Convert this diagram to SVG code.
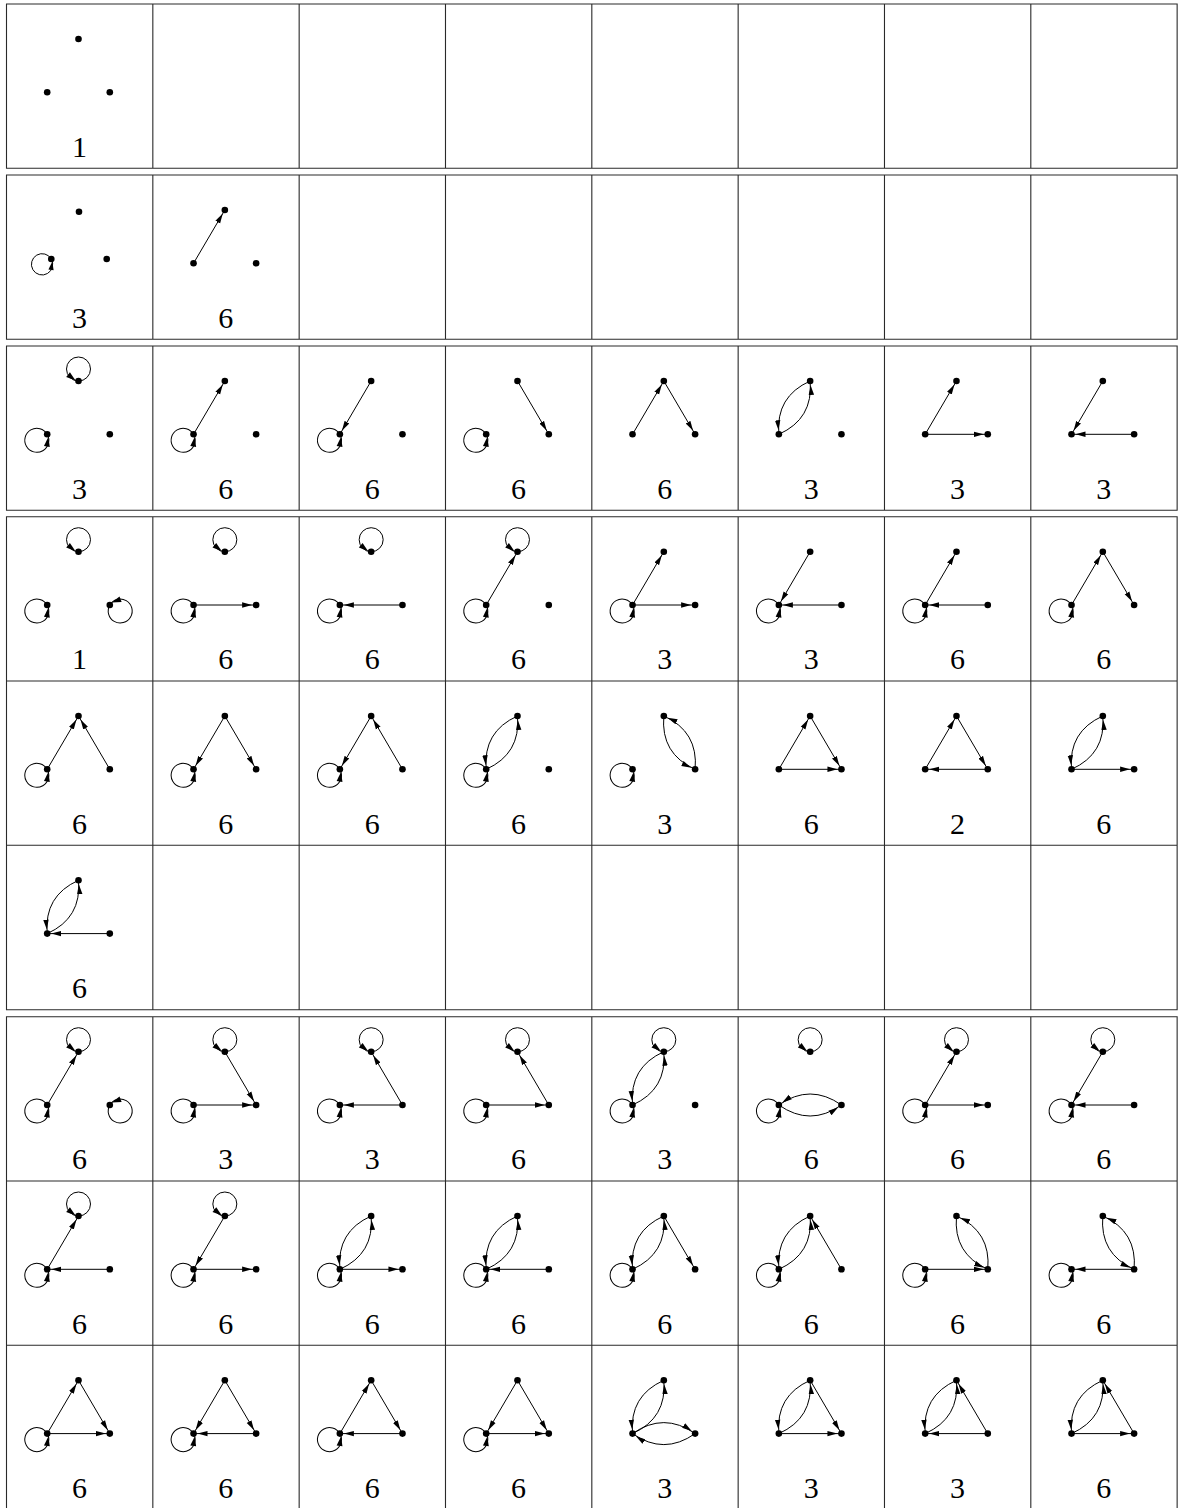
<svg xmlns="http://www.w3.org/2000/svg" xmlns:xlink="http://www.w3.org/1999/xlink" width="1178" height="1508" viewBox="0 0 1178 1508">
<style>
.g{fill:none;stroke:#2a2a2a;stroke-width:1.1}
.e{fill:none;stroke:#000;stroke-width:1;marker-end:url(#ah)}
.lc{fill:none;stroke:#000;stroke-width:1}
.n{font-family:"Liberation Serif","DejaVu Serif",serif;font-size:30px;text-anchor:middle;fill:#000}
</style>
<defs>
<marker id="ah" viewBox="0 0 15 7" refX="14" refY="3.5" markerWidth="15" markerHeight="7" markerUnits="userSpaceOnUse" orient="auto"><path d="M0,0.8 L10,3.5 L0,6.2 Z" fill="#000"/></marker>
<g id="lp"><circle class="lc" cx="0" cy="-12" r="12"/><path d="M-3,-0.4 L-12.3,-4.1 L-8.6,-8.7 Z" fill="#000"/></g>
<use id="lpT" href="#lp" transform="translate(72,35)"/>
<use id="lpL" href="#lp" transform="translate(40.7,88.3) rotate(-120)"/>
<use id="lpR" href="#lp" transform="translate(103.3,88.3) rotate(120)"/>
<g id="V3"><circle cx="72" cy="35" r="3.3"/><circle cx="40.7" cy="88.3" r="3.3"/><circle cx="103.3" cy="88.3" r="3.3"/></g>
<path id="sLT" class="e" d="M40.7,88.3 L72,35"/>
<path id="sTL" class="e" d="M72,35 L40.7,88.3"/>
<path id="sTR" class="e" d="M72,35 L103.3,88.3"/>
<path id="sRT" class="e" d="M103.3,88.3 L72,35"/>
<path id="sLR" class="e" d="M40.7,88.3 L103.3,88.3"/>
<path id="sRL" class="e" d="M103.3,88.3 L40.7,88.3"/>
<path id="cLT" class="e" d="M40.7,88.3 Q75.33,72.79 72,35"/>
<path id="cTL" class="e" d="M72,35 Q37.37,50.51 40.7,88.3"/>
<path id="cTR" class="e" d="M72,35 Q68.67,72.79 103.3,88.3"/>
<path id="cRT" class="e" d="M103.3,88.3 Q106.63,50.51 72,35"/>
<path id="cLR" class="e" d="M40.7,88.3 Q72,110.3 103.3,88.3"/>
<path id="cRL" class="e" d="M103.3,88.3 Q72,66.3 40.7,88.3"/>
<path id="cLRu" class="e" d="M40.7,88.3 Q72,66.3 103.3,88.3"/>
<path id="cRLd" class="e" d="M103.3,88.3 Q72,110.3 40.7,88.3"/>
</defs>
<rect width="1178" height="1508" fill="#fff"/>
<g id="grid">
<path class="g" d="M6.5,4 H1177.14 V168.3 H6.5 Z M152.83,4 V168.3 M299.16,4 V168.3 M445.49,4 V168.3 M591.82,4 V168.3 M738.15,4 V168.3 M884.48,4 V168.3 M1030.81,4 V168.3"/>
<path class="g" d="M6.5,175 H1177.14 V339.3 H6.5 Z M152.83,175 V339.3 M299.16,175 V339.3 M445.49,175 V339.3 M591.82,175 V339.3 M738.15,175 V339.3 M884.48,175 V339.3 M1030.81,175 V339.3"/>
<path class="g" d="M6.5,346 H1177.14 V510.3 H6.5 Z M152.83,346 V510.3 M299.16,346 V510.3 M445.49,346 V510.3 M591.82,346 V510.3 M738.15,346 V510.3 M884.48,346 V510.3 M1030.81,346 V510.3"/>
<path class="g" d="M6.5,516.7 H1177.14 V1009.7 H6.5 Z M6.5,681 H1177.14 M6.5,845.3 H1177.14 M152.83,516.7 V1009.7 M299.16,516.7 V1009.7 M445.49,516.7 V1009.7 M591.82,516.7 V1009.7 M738.15,516.7 V1009.7 M884.48,516.7 V1009.7 M1030.81,516.7 V1009.7"/>
<path class="g" d="M6.5,1509.6 V1016.7 H1177.14 V1509.6 M6.5,1181 H1177.14 M6.5,1345.3 H1177.14 M152.83,1016.7 V1509 M299.16,1016.7 V1509 M445.49,1016.7 V1509 M591.82,1016.7 V1509 M738.15,1016.7 V1509 M884.48,1016.7 V1509 M1030.81,1016.7 V1509"/>
</g>

<g id="r1c0" transform="translate(6.5,4)"><use href="#V3"/><text class="n" x="73" y="152.5">1</text></g>

<g id="r2c0" transform="translate(6.5,175)"><g class="conn"><use href="#lp" transform="translate(44.8,84) rotate(-120) scale(0.887)"/></g><circle cx="72.5" cy="36.7" r="3.3"/><circle cx="44.8" cy="84" r="3.3"/><circle cx="100.2" cy="84" r="3.3"/><text class="n" x="73" y="152.5">3</text></g>
<g id="r2c1" transform="translate(152.83,175)"><g class="conn"><use href="#sLT"/></g><use href="#V3"/><text class="n" x="73" y="152.5">6</text></g>

<g id="r3c0" transform="translate(6.5,346)"><g class="conn"><use href="#lpT"/><use href="#lpL"/></g><use href="#V3"/><text class="n" x="73" y="152.5">3</text></g>
<g id="r3c1" transform="translate(152.83,346)"><g class="conn"><use href="#lpL"/><use href="#sLT"/></g><use href="#V3"/><text class="n" x="73" y="152.5">6</text></g>
<g id="r3c2" transform="translate(299.16,346)"><g class="conn"><use href="#lpL"/><use href="#sTL"/></g><use href="#V3"/><text class="n" x="73" y="152.5">6</text></g>
<g id="r3c3" transform="translate(445.49,346)"><g class="conn"><use href="#lpL"/><use href="#sTR"/></g><use href="#V3"/><text class="n" x="73" y="152.5">6</text></g>
<g id="r3c4" transform="translate(591.82,346)"><g class="conn"><use href="#sLT"/><use href="#sTR"/></g><use href="#V3"/><text class="n" x="73" y="152.5">6</text></g>
<g id="r3c5" transform="translate(738.15,346)"><g class="conn"><use href="#cLT"/><use href="#cTL"/></g><use href="#V3"/><text class="n" x="73" y="152.5">3</text></g>
<g id="r3c6" transform="translate(884.48,346)"><g class="conn"><use href="#sLT"/><use href="#sLR"/></g><use href="#V3"/><text class="n" x="73" y="152.5">3</text></g>
<g id="r3c7" transform="translate(1030.81,346)"><g class="conn"><use href="#sTL"/><use href="#sRL"/></g><use href="#V3"/><text class="n" x="73" y="152.5">3</text></g>

<g id="r4c0" transform="translate(6.5,516.7)"><g class="conn"><use href="#lpT"/><use href="#lpL"/><use href="#lpR"/></g><use href="#V3"/><text class="n" x="73" y="152.5">1</text></g>
<g id="r4c1" transform="translate(152.83,516.7)"><g class="conn"><use href="#lpT"/><use href="#lpL"/><use href="#sLR"/></g><use href="#V3"/><text class="n" x="73" y="152.5">6</text></g>
<g id="r4c2" transform="translate(299.16,516.7)"><g class="conn"><use href="#lpT"/><use href="#lpL"/><use href="#sRL"/></g><use href="#V3"/><text class="n" x="73" y="152.5">6</text></g>
<g id="r4c3" transform="translate(445.49,516.7)"><g class="conn"><use href="#lpT"/><use href="#lpL"/><use href="#sLT"/></g><use href="#V3"/><text class="n" x="73" y="152.5">6</text></g>
<g id="r4c4" transform="translate(591.82,516.7)"><g class="conn"><use href="#lpL"/><use href="#sLT"/><use href="#sLR"/></g><use href="#V3"/><text class="n" x="73" y="152.5">3</text></g>
<g id="r4c5" transform="translate(738.15,516.7)"><g class="conn"><use href="#lpL"/><use href="#sTL"/><use href="#sRL"/></g><use href="#V3"/><text class="n" x="73" y="152.5">3</text></g>
<g id="r4c6" transform="translate(884.48,516.7)"><g class="conn"><use href="#lpL"/><use href="#sLT"/><use href="#sRL"/></g><use href="#V3"/><text class="n" x="73" y="152.5">6</text></g>
<g id="r4c7" transform="translate(1030.81,516.7)"><g class="conn"><use href="#lpL"/><use href="#sLT"/><use href="#sTR"/></g><use href="#V3"/><text class="n" x="73" y="152.5">6</text></g>

<g id="r5c0" transform="translate(6.5,681)"><g class="conn"><use href="#lpL"/><use href="#sLT"/><use href="#sRT"/></g><use href="#V3"/><text class="n" x="73" y="152.5">6</text></g>
<g id="r5c1" transform="translate(152.83,681)"><g class="conn"><use href="#lpL"/><use href="#sTL"/><use href="#sTR"/></g><use href="#V3"/><text class="n" x="73" y="152.5">6</text></g>
<g id="r5c2" transform="translate(299.16,681)"><g class="conn"><use href="#lpL"/><use href="#sTL"/><use href="#sRT"/></g><use href="#V3"/><text class="n" x="73" y="152.5">6</text></g>
<g id="r5c3" transform="translate(445.49,681)"><g class="conn"><use href="#lpL"/><use href="#cLT"/><use href="#cTL"/></g><use href="#V3"/><text class="n" x="73" y="152.5">6</text></g>
<g id="r5c4" transform="translate(591.82,681)"><g class="conn"><use href="#lpL"/><use href="#cTR"/><use href="#cRT"/></g><use href="#V3"/><text class="n" x="73" y="152.5">3</text></g>
<g id="r5c5" transform="translate(738.15,681)"><g class="conn"><use href="#sLT"/><use href="#sTR"/><use href="#sLR"/></g><use href="#V3"/><text class="n" x="73" y="152.5">6</text></g>
<g id="r5c6" transform="translate(884.48,681)"><g class="conn"><use href="#sLT"/><use href="#sTR"/><use href="#sRL"/></g><use href="#V3"/><text class="n" x="73" y="152.5">2</text></g>
<g id="r5c7" transform="translate(1030.81,681)"><g class="conn"><use href="#cLT"/><use href="#cTL"/><use href="#sLR"/></g><use href="#V3"/><text class="n" x="73" y="152.5">6</text></g>

<g id="r6c0" transform="translate(6.5,845.3)"><g class="conn"><use href="#cLT"/><use href="#cTL"/><use href="#sRL"/></g><use href="#V3"/><text class="n" x="73" y="152.5">6</text></g>

<g id="r7c0" transform="translate(6.5,1016.7)"><g class="conn"><use href="#lpT"/><use href="#lpL"/><use href="#lpR"/><use href="#sLT"/></g><use href="#V3"/><text class="n" x="73" y="152.5">6</text></g>
<g id="r7c1" transform="translate(152.83,1016.7)"><g class="conn"><use href="#lpT"/><use href="#lpL"/><use href="#sLR"/><use href="#sTR"/></g><use href="#V3"/><text class="n" x="73" y="152.5">3</text></g>
<g id="r7c2" transform="translate(299.16,1016.7)"><g class="conn"><use href="#lpT"/><use href="#lpL"/><use href="#sRL"/><use href="#sRT"/></g><use href="#V3"/><text class="n" x="73" y="152.5">3</text></g>
<g id="r7c3" transform="translate(445.49,1016.7)"><g class="conn"><use href="#lpT"/><use href="#lpL"/><use href="#sLR"/><use href="#sRT"/></g><use href="#V3"/><text class="n" x="73" y="152.5">6</text></g>
<g id="r7c4" transform="translate(591.82,1016.7)"><g class="conn"><use href="#lpT"/><use href="#lpL"/><use href="#cLT"/><use href="#cTL"/></g><use href="#V3"/><text class="n" x="73" y="152.5">3</text></g>
<g id="r7c5" transform="translate(738.15,1016.7)"><g class="conn"><use href="#lpT"/><use href="#lpL"/><use href="#cLR"/><use href="#cRL"/></g><use href="#V3"/><text class="n" x="73" y="152.5">6</text></g>
<g id="r7c6" transform="translate(884.48,1016.7)"><g class="conn"><use href="#lpT"/><use href="#lpL"/><use href="#sLT"/><use href="#sLR"/></g><use href="#V3"/><text class="n" x="73" y="152.5">6</text></g>
<g id="r7c7" transform="translate(1030.81,1016.7)"><g class="conn"><use href="#lpT"/><use href="#lpL"/><use href="#sTL"/><use href="#sRL"/></g><use href="#V3"/><text class="n" x="73" y="152.5">6</text></g>

<g id="r8c0" transform="translate(6.5,1181)"><g class="conn"><use href="#lpT"/><use href="#lpL"/><use href="#sLT"/><use href="#sRL"/></g><use href="#V3"/><text class="n" x="73" y="152.5">6</text></g>
<g id="r8c1" transform="translate(152.83,1181)"><g class="conn"><use href="#lpT"/><use href="#lpL"/><use href="#sTL"/><use href="#sLR"/></g><use href="#V3"/><text class="n" x="73" y="152.5">6</text></g>
<g id="r8c2" transform="translate(299.16,1181)"><g class="conn"><use href="#lpL"/><use href="#cLT"/><use href="#cTL"/><use href="#sLR"/></g><use href="#V3"/><text class="n" x="73" y="152.5">6</text></g>
<g id="r8c3" transform="translate(445.49,1181)"><g class="conn"><use href="#lpL"/><use href="#cLT"/><use href="#cTL"/><use href="#sRL"/></g><use href="#V3"/><text class="n" x="73" y="152.5">6</text></g>
<g id="r8c4" transform="translate(591.82,1181)"><g class="conn"><use href="#lpL"/><use href="#cLT"/><use href="#cTL"/><use href="#sTR"/></g><use href="#V3"/><text class="n" x="73" y="152.5">6</text></g>
<g id="r8c5" transform="translate(738.15,1181)"><g class="conn"><use href="#lpL"/><use href="#cLT"/><use href="#cTL"/><use href="#sRT"/></g><use href="#V3"/><text class="n" x="73" y="152.5">6</text></g>
<g id="r8c6" transform="translate(884.48,1181)"><g class="conn"><use href="#lpL"/><use href="#cTR"/><use href="#cRT"/><use href="#sLR"/></g><use href="#V3"/><text class="n" x="73" y="152.5">6</text></g>
<g id="r8c7" transform="translate(1030.81,1181)"><g class="conn"><use href="#lpL"/><use href="#cTR"/><use href="#cRT"/><use href="#sRL"/></g><use href="#V3"/><text class="n" x="73" y="152.5">6</text></g>

<g id="r9c0" transform="translate(6.5,1345.3)"><g class="conn"><use href="#lpL"/><use href="#sLT"/><use href="#sTR"/><use href="#sLR"/></g><use href="#V3"/><text class="n" x="73" y="152.5">6</text></g>
<g id="r9c1" transform="translate(152.83,1345.3)"><g class="conn"><use href="#lpL"/><use href="#sTL"/><use href="#sTR"/><use href="#sRL"/></g><use href="#V3"/><text class="n" x="73" y="152.5">6</text></g>
<g id="r9c2" transform="translate(299.16,1345.3)"><g class="conn"><use href="#lpL"/><use href="#sLT"/><use href="#sTR"/><use href="#sRL"/></g><use href="#V3"/><text class="n" x="73" y="152.5">6</text></g>
<g id="r9c3" transform="translate(445.49,1345.3)"><g class="conn"><use href="#lpL"/><use href="#sTL"/><use href="#sTR"/><use href="#sLR"/></g><use href="#V3"/><text class="n" x="73" y="152.5">6</text></g>
<g id="r9c4" transform="translate(591.82,1345.3)"><g class="conn"><use href="#cLT"/><use href="#cTL"/><use href="#cLRu"/><use href="#cRLd"/></g><use href="#V3"/><text class="n" x="73" y="152.5">3</text></g>
<g id="r9c5" transform="translate(738.15,1345.3)"><g class="conn"><use href="#cLT"/><use href="#cTL"/><use href="#sTR"/><use href="#sLR"/></g><use href="#V3"/><text class="n" x="73" y="152.5">3</text></g>
<g id="r9c6" transform="translate(884.48,1345.3)"><g class="conn"><use href="#cLT"/><use href="#cTL"/><use href="#sRT"/><use href="#sRL"/></g><use href="#V3"/><text class="n" x="73" y="152.5">3</text></g>
<g id="r9c7" transform="translate(1030.81,1345.3)"><g class="conn"><use href="#cLT"/><use href="#cTL"/><use href="#sRT"/><use href="#sLR"/></g><use href="#V3"/><text class="n" x="73" y="152.5">6</text></g>
</svg>
